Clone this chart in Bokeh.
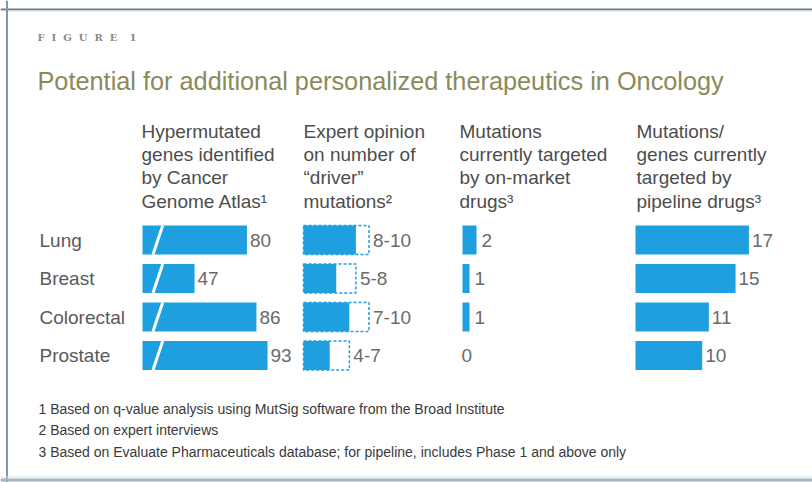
from bokeh.plotting import figure
from bokeh.models import Range1d, ColumnDataSource, Span
from bokeh.core.properties import value
from bokeh.embed import file_html
from bokeh.resources import INLINE

# ---------------- data ----------------
figure_label = "F\u2002\u2009I\u2002\u2009G\u2002\u2009U\u2002\u2009R\u2002\u2009E\u2002\u2009\u20021"
title = "Potential for additional personalized therapeutics in Oncology"
cancers = ["Lung", "Breast", "Colorectal", "Prostate"]
hypermutated = [80, 47, 86, 93]
driver_low = [8, 5, 7, 4]
driver_high = [10, 8, 10, 7]
on_market = [2, 1, 1, 0]
pipeline = [17, 15, 11, 10]
headers = [
    ["Hypermutated", "genes identified", "by Cancer", "Genome Atlas\u00b9"],
    ["Expert opinion", "on number of", "\u201cdriver\u201d", "mutations\u00b2"],
    ["Mutations", "currently targeted", "by on-market", "drugs\u00b3"],
    ["Mutations/", "genes currently", "targeted by", "pipeline drugs\u00b3"],
]
footnotes = [
    "1 Based on q-value analysis using MutSig software from the Broad Institute",
    "2 Based on expert interviews",
    "3 Based on Evaluate Pharmaceuticals database; for pipeline, includes Phase 1 and above only",
]

# ---------------- layout / style ----------------
W, H = 812, 482
BLUE = "#1d9fe0"
FONT = value("Liberation Sans")


def col_range(origin_x, px_per_unit, base=0.0):
    start = base - origin_x / px_per_unit
    return Range1d(start=start, end=start + W / px_per_unit)


BREAK1 = 14.2          # axis break of first column
S1, S2, S3, S4 = 1.587, 6.55, 7.0, 6.67
ROW0, ROW_STEP, BAR_H = 239.5, 38.5, 29 / 38.5

p = figure(width=W, height=H, x_range=Range1d(0, W), y_range=Range1d(H, 0),
           output_backend="svg", toolbar_location=None, tools="",
           x_axis_type=None, y_axis_type=None, min_border=0,
           outline_line_color=None, background_fill_color="white",
           border_fill_color="white")
p.extra_x_ranges = {
    "c1": col_range(142, S1, BREAK1),
    "c2": col_range(303, S2),
    "c3": col_range(462, S3),
    "c4": col_range(635, S4),
}
p.extra_y_ranges = {"rows": Range1d(start=(H - ROW0) / ROW_STEP, end=-ROW0 / ROW_STEP)}

idx = list(range(len(cancers)))
src = ColumnDataSource(dict(
    idx=idx, cancer=cancers, hyper=hypermutated, hyper_lbl=[str(v) for v in hypermutated],
    dlo=driver_low, dhi=driver_high, drange=[f"{a}-{b}" for a, b in zip(driver_low, driver_high)],
    om=on_market, om_lbl=[str(v) for v in on_market], om_off=[5 if v else -1 for v in on_market],
    pipe=pipeline, pipe_lbl=[str(v) for v in pipeline],
    base1=[BREAK1] * len(idx),
    s_x0=[BREAK1 + 10.5 / S1] * len(idx), s_x1=[BREAK1 + 20.2 / S1] * len(idx),
    s_y0=[i + BAR_H / 2 for i in idx], s_y1=[i - BAR_H / 2 for i in idx],
))

# frame
p.add_layout(Span(location=9, dimension="width", line_color="#6b7c84", line_width=2))
p.add_layout(Span(location=10.5, dimension="width", line_color="#d3ecf0", line_width=1))
p.add_layout(Span(location=6.5, dimension="height", line_color="#8198a6", line_width=2))
p.add_layout(Span(location=476.5, dimension="width", line_color="#d6e3ea", line_width=1))
p.add_layout(Span(location=479.5, dimension="width", line_color="#a1b5c3", line_width=3))

# figure label + title
p.text(x=[37], y=[37], text=[figure_label], text_font=value("DejaVu Serif"),
       text_font_style="bold", text_font_size="10px", text_color="#8a8a8a",
       text_baseline="middle")
p.text(x=[37], y=[80], text=[title], text_font=FONT, text_font_size="25.3px",
       text_color="#8a8a5a", text_baseline="middle")

# headers
hx, hy, ht = [], [], []
for j, lines in enumerate(headers):
    for i, t in enumerate(lines):
        hx.append([141, 303, 459, 636][j])
        hy.append(131 + 23.2 * i)
        ht.append(t)
p.text(x=hx, y=hy, text=ht, text_font=FONT, text_font_size="19px",
       text_color="#4d4d4d", text_baseline="middle")

# row labels
p.text(x=39, y="idx", text="cancer", source=src, y_range_name="rows",
       text_font=FONT, text_font_size="19px", text_color="#5a5a5a", text_baseline="middle")

# column 1: hypermutated genes (broken axis)
p.hbar(y="idx", left="base1", right="hyper", height=BAR_H, source=src,
       x_range_name="c1", y_range_name="rows", fill_color=BLUE, line_color=None)
p.segment(x0="s_x0", y0="s_y0", x1="s_x1", y1="s_y1", source=src,
          x_range_name="c1", y_range_name="rows", line_color="white", line_width=3)
p.text(x="hyper", y="idx", text="hyper_lbl", source=src, x_range_name="c1",
       y_range_name="rows", x_offset=3, text_font=FONT, text_font_size="19px",
       text_color="#6a6a6a", text_baseline="middle")

# column 2: expert opinion range
p.hbar(y="idx", left=0, right="dhi", height=BAR_H, source=src, x_range_name="c2",
       y_range_name="rows", fill_color="white", line_color=BLUE, line_width=1.5,
       line_dash="3 2")
p.hbar(y="idx", left=0, right="dlo", height=BAR_H, source=src, x_range_name="c2",
       y_range_name="rows", fill_color=BLUE, line_color=None)
p.text(x="dhi", y="idx", text="drange", source=src, x_range_name="c2",
       y_range_name="rows", x_offset=4, text_font=FONT, text_font_size="19px",
       text_color="#6a6a6a", text_baseline="middle")

# column 3: on-market
p.hbar(y="idx", left=0, right="om", height=BAR_H, source=src, x_range_name="c3",
       y_range_name="rows", fill_color=BLUE, line_color=None)
p.text(x="om", y="idx", text="om_lbl", source=src, x_range_name="c3",
       y_range_name="rows", x_offset="om_off", text_font=FONT, text_font_size="19px",
       text_color="#6a6a6a", text_baseline="middle")

# column 4: pipeline
p.hbar(y="idx", left=0, right="pipe", height=BAR_H, source=src, x_range_name="c4",
       y_range_name="rows", fill_color=BLUE, line_color=None)
p.text(x="pipe", y="idx", text="pipe_lbl", source=src, x_range_name="c4",
       y_range_name="rows", x_offset=3, text_font=FONT, text_font_size="19px",
       text_color="#6a6a6a", text_baseline="middle")

# footnotes
p.text(x=[38] * 3, y=[408, 429, 451], text=footnotes, text_font=FONT,
       text_font_size="14px", text_color="#3a3a3a", text_baseline="middle")

open("out.html", "w").write(file_html(p, INLINE))
